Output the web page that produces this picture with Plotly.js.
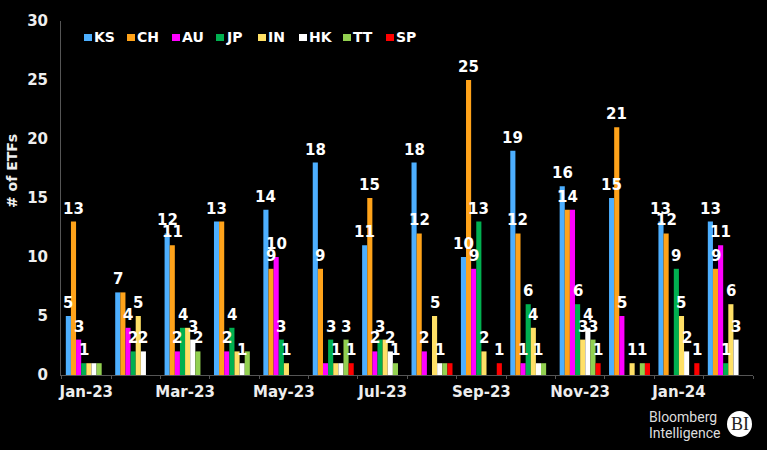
<!DOCTYPE html>
<html>
<head>
<meta charset="utf-8">
<script src="https://cdn.plot.ly/plotly-3.0.1.min.js"></script>
<style>html,body{margin:0;padding:0;background:#000;}</style>
</head>
<body>
<div id="chart" style="width:767px;height:450px;"></div>
<script>
var months = ["Jan-23", "Feb-23", "Mar-23", "Apr-23", "May-23", "Jun-23", "Jul-23", "Aug-23", "Sep-23", "Oct-23", "Nov-23", "Dec-23", "Jan-24", "Feb-24"];
var names = ["KS", "CH", "AU", "JP", "IN", "HK", "TT", "SP"];
var colors = ["#4DAFFF", "#FFA31A", "#FF00FF", "#00B050", "#FFE066", "#FFFFFF", "#92D050", "#FF0000"];

var ks = [5, 7, 12, 13, 14, 18, 11, 18, 10, 19, 16, 15, 13, 13];
var ch = [13, 7, 11, 13, 9, 9, 15, 12, 25, 12, 14, 21, 12, 9];
var au = [3, 4, 2, 2, 10, 1, 2, 2, 9, 1, 14, 5, 0, 11];
var jp = [1, 2, 4, 4, 3, 3, 3, 0, 13, 6, 6, 0, 9, 1];
var ind = [1, 5, 4, 2, 1, 1, 3, 5, 2, 4, 3, 1, 5, 6];
var hk = [1, 2, 3, 1, 0, 1, 2, 1, 0, 1, 4, 0, 2, 3];
var tt = [1, 0, 2, 2, 0, 3, 1, 1, 0, 1, 3, 1, 0, 0];
var sp = [0, 0, 0, 0, 0, 1, 0, 1, 1, 0, 1, 1, 1, 0];
var series = [ks, ch, au, jp, ind, hk, tt, sp];

// Month indexes whose label the original leaves out, one list per series
var noLabel = [[], [1, 3], [5, 10], [], [0, 2, 3, 6], [0, 5], [0, 3, 7, 9], [7, 11]];

var boldFont = "DejaVu Sans";
var bargap = 0.17;

var data = series.map(function (vals, i) {
    return {
        type: "bar",
        name: names[i],
        x: months,
        y: vals,
        marker: {color: colors[i], line: {width: 0}}
    };
});

var shapes = [];
var annotations = [];

// Value labels are annotations so they can sit a bit higher above the bars than bar text does
var barWidth = (1 - bargap) / series.length;
series.forEach(function (vals, i) {
    vals.forEach(function (v, m) {
        if (v === 0 || noLabel[i].indexOf(m) !== -1) return;
        annotations.push({
            text: String(v), xref: "x", yref: "y", showarrow: false,
            x: m + (i - (series.length - 1) / 2) * barWidth, xanchor: "center",
            y: v, yanchor: "bottom", yshift: 2,
            font: {family: boldFont, size: 15, color: "#fff", weight: 700}
        });
    });
});

// Helpers for things placed by pixel on the page
function px(x) { return (x - 61) / 692; }
function py(y) { return 1 - (y - 21) / 354; }

// Legend is drawn by hand, the built-in one puts too big a gap after the swatch
var legendX = [84, 127, 172, 216, 258, 299, 343, 386];
names.forEach(function (n, i) {
    shapes.push({
        type: "rect", xref: "paper", yref: "paper",
        x0: px(legendX[i]), x1: px(legendX[i] + 8),
        y0: py(41), y1: py(34),
        fillcolor: colors[i], line: {width: 0}
    });
    annotations.push({
        text: n, xref: "paper", yref: "paper", showarrow: false,
        x: px(legendX[i] + 8), xanchor: "left",
        y: py(37), yanchor: "middle",
        font: {family: boldFont, size: 14, color: "#fff", weight: 700}
    });
});

// Axis title sits above the middle of the axis in the original
annotations.push({
    text: "# of ETFs", xref: "paper", yref: "paper", showarrow: false,
    x: px(12), xanchor: "center", y: py(171), yanchor: "middle", textangle: -90,
    font: {family: boldFont, size: 14, color: "#eee", weight: 700}
});

// Bloomberg Intelligence logo
annotations.push({
    text: "Bloomberg", xref: "paper", yref: "paper", showarrow: false,
    x: px(647), xanchor: "left", y: py(417), yanchor: "middle",
    font: {family: "Roboto", size: 14, color: "#ddd"}
});
annotations.push({
    text: "Intelligence", xref: "paper", yref: "paper", showarrow: false,
    x: px(647), xanchor: "left", y: py(433), yanchor: "middle",
    font: {family: "Roboto", size: 14, color: "#ddd"}
});
shapes.push({
    type: "circle", xref: "paper", yref: "paper", layer: "below",
    x0: px(727), x1: px(752),
    y0: py(437), y1: py(411),
    fillcolor: "#fff", line: {width: 0}
});
annotations.push({
    text: "BI", xref: "paper", yref: "paper", showarrow: false,
    x: px(739.5), xanchor: "center", y: py(424), yanchor: "middle",
    font: {family: "Liberation Serif", size: 18, color: "#222"}
});

var layout = {
    width: 767,
    height: 450,
    paper_bgcolor: "#000",
    plot_bgcolor: "#000",
    margin: {l: 61, r: 14, t: 21, b: 75},
    barmode: "group",
    bargap: bargap,
    bargroupgap: 0,
    showlegend: false,
    font: {family: boldFont, color: "#fff"},
    xaxis: {
        type: "category",
        tickson: "boundaries",
        tickmode: "array",
        tickvals: months,
        // every other month is labelled, all of them get a tick
        ticktext: months.map(function (m, i) { return i % 2 === 0 ? m : ""; }),
        tickangle: 0,
        ticks: "outside",
        ticklen: 3,
        tickcolor: "#555",
        ticklabelstandoff: 3,
        showline: true,
        linecolor: "#555",
        showgrid: false,
        tickfont: {family: boldFont, size: 15, color: "#eee", weight: 700}
    },
    yaxis: {
        range: [0, 30],
        dtick: 5,
        showgrid: false,
        zeroline: false,
        showline: true,
        linecolor: "#555",
        ticks: "",
        ticklabelstandoff: 9,
        tickfont: {family: boldFont, size: 15, color: "#eee", weight: 700}
    },
    shapes: shapes,
    annotations: annotations
};

Plotly.newPlot("chart", data, layout, {displayModeBar: false});
</script>
</body>
</html>
